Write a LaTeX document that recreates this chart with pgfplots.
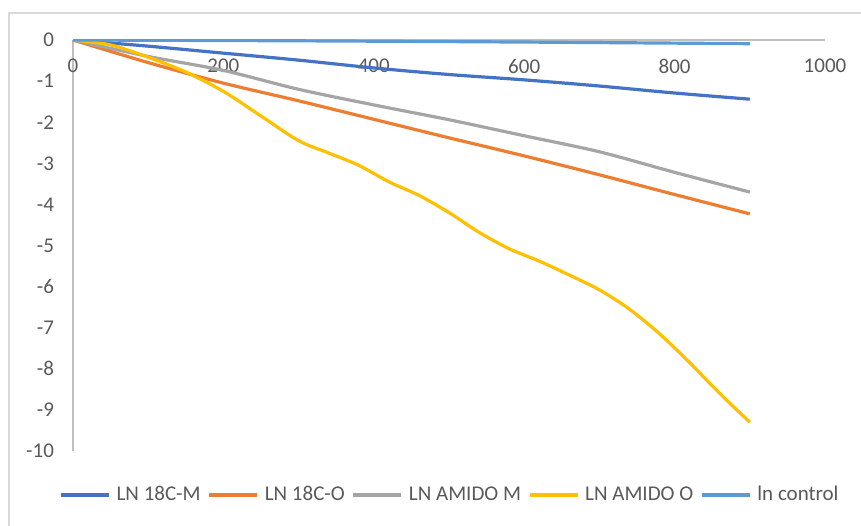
\documentclass[border=0pt]{standalone}
\usepackage{pgfplots}
\pgfplotsset{compat=1.18}
\usepackage{fontspec}
\setmainfont{Carlito}
\definecolor{cA}{HTML}{4472C4}
\definecolor{cB}{HTML}{ED7D31}
\definecolor{cC}{HTML}{A5A5A5}
\definecolor{cD}{HTML}{FFC000}
\definecolor{cE}{HTML}{5B9BD5}
\definecolor{tickgray}{HTML}{595959}
\definecolor{axgray}{HTML}{BFBFBF}
\definecolor{bordergray}{HTML}{D9D9D9}
\begin{document}
\begin{tikzpicture}
\useasboundingbox (0,0) rectangle (430.5pt,262.5pt);
\draw[color=bordergray, line width=0.75pt] (4.5pt,-5pt) -- (4.5pt,256pt) -- (440pt,256pt);
\begin{axis}[
  at={(36.5pt,37pt)}, anchor=south west,
  scale only axis, width=376pt, height=205.5pt,
  xmin=0, xmax=1000, ymin=-10, ymax=0,
  axis x line*=top, axis y line*=left,
  axis line style={draw=axgray, line width=0.75pt},
  major tick length=0pt,
  xtick={0,200,400,600,800,1000},
  xticklabels={0,200,400,600,800,1000},
  ytick={-10,-9,-8,-7,-6,-5,-4,-3,-2,-1,0},
  yticklabels={-10,-9,-8,-7,-6,-5,-4,-3,-2,-1,0},
  xticklabel style={anchor=north, yshift=-6pt, text=tickgray, font=\fontsize{10.5}{12}\selectfont},
  yticklabel style={anchor=east, xshift=-6pt, text=tickgray, font=\fontsize{10.5}{12}\selectfont},
  legend columns=5,
  legend style={at={(0.5,0)}, anchor=center, yshift=-22pt, draw=none, fill=none,
    font=\fontsize{10.5}{12}\selectfont, text=tickgray,
    nodes={inner sep=0pt},
    /tikz/every odd column/.append style={column sep=3pt},
    /tikz/every even column/.append style={column sep=3.5pt}},
  legend image code/.code={\draw[#1] (0pt,0pt) -- (24pt,0pt);},
  every axis plot/.append style={line width=1.6pt, smooth, tension=0.5},
]
\addplot[color=cA] coordinates {(0,0) (100,-0.15) (200,-0.32) (300,-0.49) (400,-0.68) (500,-0.84) (600,-0.97) (700,-1.12) (800,-1.29) (900,-1.44)};
\addlegendentry{LN 18C-M}
\addplot[color=cB] coordinates {(0,0) (100,-0.55) (200,-1.05) (300,-1.48) (400,-1.93) (500,-2.38) (600,-2.82) (700,-3.28) (800,-3.76) (900,-4.23)};
\addlegendentry{LN 18C-O}
\addplot[color=cC] coordinates {(0,0) (100,-0.40) (200,-0.74) (300,-1.20) (400,-1.58) (500,-1.94) (600,-2.33) (700,-2.72) (800,-3.22) (900,-3.70)};
\addlegendentry{LN AMIDO M}
\addplot[color=cD] coordinates {(0,0) (50,-0.12) (100,-0.42) (150,-0.78) (200,-1.25) (250,-1.85) (300,-2.45) (340,-2.75) (380,-3.05) (420,-3.45) (460,-3.78) (500,-4.2) (540,-4.68) (580,-5.08) (620,-5.38) (660,-5.72) (700,-6.08) (740,-6.55) (780,-7.15) (820,-7.85) (860,-8.6) (900,-9.3)};
\addlegendentry{LN AMIDO O}
\addplot[color=cE] coordinates {(0,0) (300,-0.02) (600,-0.05) (900,-0.09)};
\addlegendentry{ln control}
\end{axis}
\end{tikzpicture}
\end{document}
